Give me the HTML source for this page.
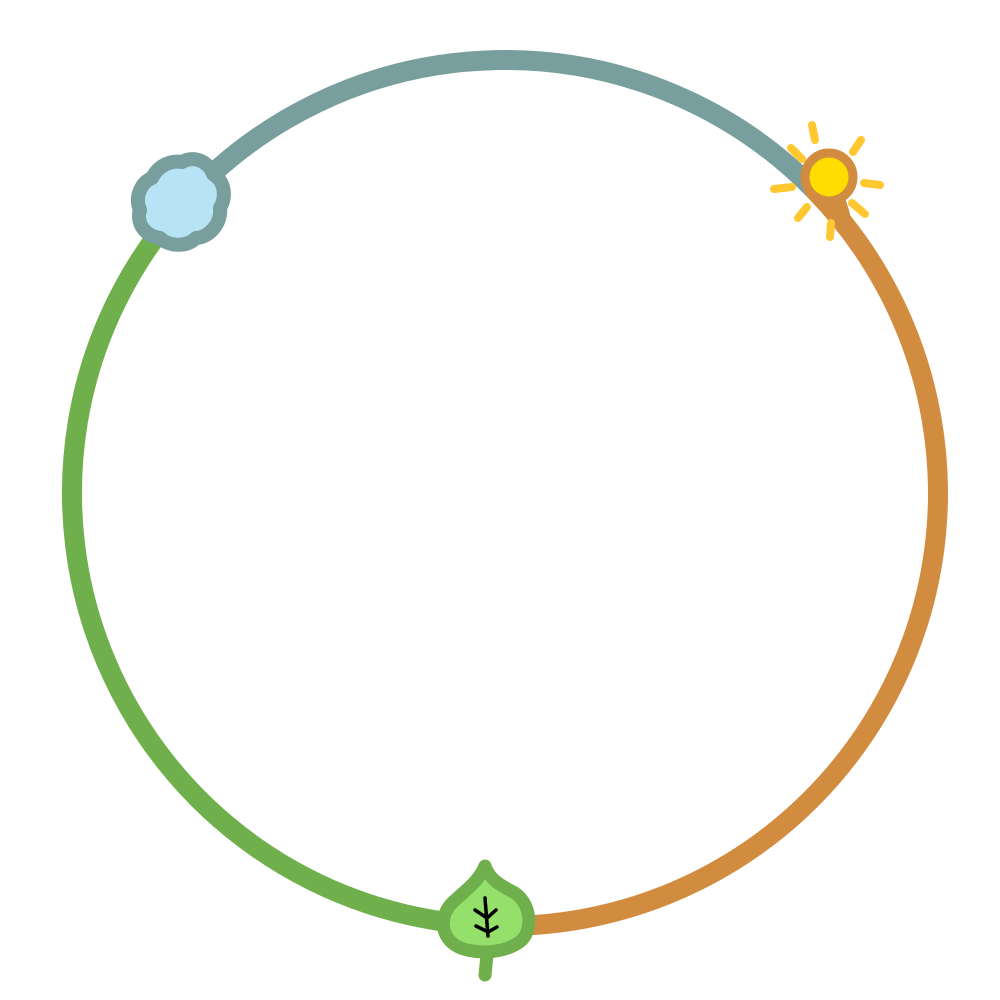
<!DOCTYPE html>
<html><head><meta charset="utf-8"><style>html,body{margin:0;padding:0;background:#fff}svg{display:block}</style></head>
<body>
<svg width="1000" height="1000" viewBox="0 0 1000 1000" xmlns="http://www.w3.org/2000/svg">
<g fill="none" stroke-width="20" stroke-linecap="round">
<path d="M181.7 204.9 A433 433 0 0 1 814.9 190.6" stroke="#789e9e"/>
<path d="M814.9 190.6 A433 433 0 0 1 484.6 925.5" stroke="#d28c40"/>
<path d="M484.6 925.5 A433 433 0 0 1 181.7 204.9" stroke="#70b04c"/>
<path d="M829 180 L840 215" stroke="#d28c40"/>
</g>
<g stroke="#ffc830" stroke-width="8" stroke-linecap="round">
<line x1="812" y1="125" x2="815" y2="140"/>
<line x1="861" y1="140" x2="853" y2="152"/>
<line x1="864" y1="183" x2="880" y2="185"/>
<line x1="852" y1="203" x2="865" y2="214"/>
<line x1="831" y1="223" x2="830" y2="237"/>
<line x1="807" y1="207" x2="798" y2="218"/>
<line x1="774" y1="189" x2="792" y2="187"/>
<line x1="791" y1="148" x2="802" y2="159"/>
</g>
<circle cx="829" cy="177" r="24" fill="#ffdd00" stroke="#d28c40" stroke-width="9"/>
<path d="M182 162 C196 154 210 164 213 174 C226 182 226 198 220 208 C222 224 208 238 196 238 C186 248 168 246 160 238 C144 236 136 222 140 210 C134 196 142 182 152 178 C158 166 170 160 182 162 Z" fill="#b7e3f4" stroke="#789e9e" stroke-width="14" stroke-linejoin="round"/>
<path d="M487 955 L485 975" stroke="#70b04c" stroke-width="13" stroke-linecap="round"/>
<path d="M485 866 C490 880 500 885 515 893 C532 905 532 930 522 940 C505 955 470 955 455 945 C440 935 440 915 452 903 C468 888 478 882 485 866 Z" fill="#94e06a" stroke="#70b04c" stroke-width="13" stroke-linejoin="round"/>
<g stroke="#000" stroke-width="3.5" stroke-linecap="round" fill="none">
<path d="M485 898 L488 936"/>
<path d="M475 910 L487 918 L496 910"/>
<path d="M476 926 L488 932 L497 927"/>
</g>
</svg>
</body></html>
